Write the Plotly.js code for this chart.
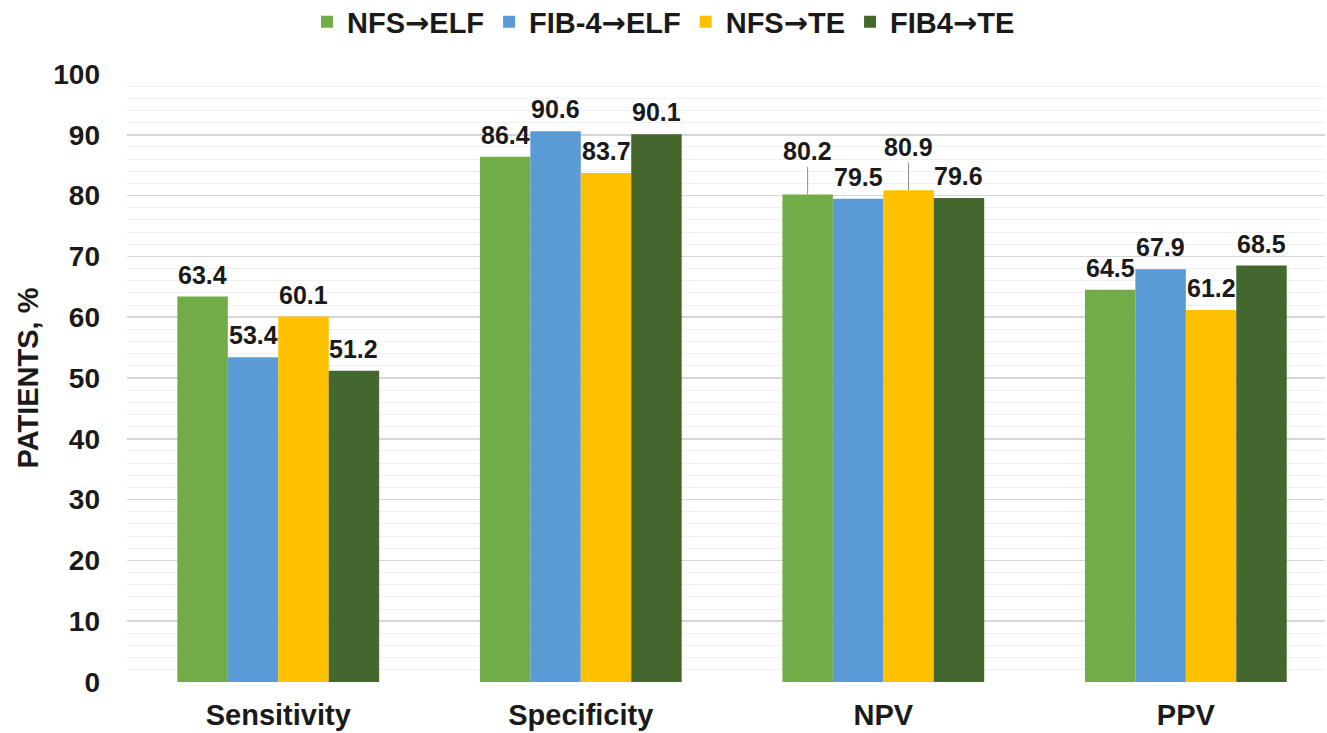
<!DOCTYPE html>
<html>
<head>
<meta charset="utf-8">
<script src="https://cdn.plot.ly/plotly-3.0.1.min.js"></script>
<style>html,body{margin:0;padding:0;background:#fff;}#chart{width:1327px;height:733px;}</style>
</head>
<body>
<div id="chart"></div>
<script>
// ---- data ----
const categories = ["Sensitivity", "Specificity", "NPV", "PPV"];
const seriesNames = ["NFS\u2192ELF", "FIB-4\u2192ELF", "NFS\u2192TE", "FIB4\u2192TE"];
const nfsElf  = [63.4, 86.4, 80.2, 64.5];
const fib4Elf = [53.4, 90.6, 79.5, 67.9];
const nfsTe   = [60.1, 83.7, 80.9, 61.2];
const fib4Te  = [51.2, 90.1, 79.6, 68.5];
const yTicks  = [0, 10, 20, 30, 40, 50, 60, 70, 80, 90, 100];

// ---- style ----
const seriesValues = [nfsElf, fib4Elf, nfsTe, fib4Te];
const colors = ["#70AD47", "#5B9BD5", "#FFC000", "#43672C"];
const FONT = "Liberation Sans, Arial, sans-serif";
const TXT = "#1a1a1a";
const bargap = 0.333;
const nS = seriesValues.length;
const barW = (1 - bargap) / nS;
// labels lifted with a leader line (category index, series index)
const lifted = [[2, 0], [2, 2]];
// render the arrow glyph with a font whose arrow is long, like the reference
const styledName = n => n.replace("\u2192", '<span style="font-family:DejaVu Sans">\u2192</span>');

const traces = seriesValues.map((vals, s) => ({
  type: "bar",
  name: styledName(seriesNames[s]),
  x: categories.map((c, i) => i),
  y: vals,
  marker: {color: colors[s], line: {width: 0}},
  hoverinfo: "y+name"
}));

const annotations = [];
seriesValues.forEach((vals, s) => {
  vals.forEach((v, i) => {
    const xPos = i + (-(1 - bargap) / 2 + barW * (s + 0.5));
    const isLifted = lifted.some(p => p[0] === i && p[1] === s);
    const a = {
      x: xPos, y: v, xref: "x", yref: "y",
      text: v.toFixed(1),
      font: {family: FONT, size: 25, color: TXT, weight: "bold"}
    };
    if (isLifted) {
      Object.assign(a, {showarrow: true, arrowhead: 0, arrowwidth: 1, arrowcolor: "#8c8c8c",
        ax: 0, ay: -43, startstandoff: 0});
    } else {
      Object.assign(a, {showarrow: false, yanchor: "bottom", yshift: 6});
    }
    annotations.push(a);
  });
});

const layout = {
  width: 1327, height: 733,
  margin: {l: 127, r: 2, t: 74, b: 51},
  paper_bgcolor: "#ffffff", plot_bgcolor: "#ffffff",
  font: {family: FONT, color: TXT},
  barmode: "group",
  bargap: bargap, bargroupgap: 0,
  showlegend: true,
  legend: {
    orientation: "h", xref: "container", yref: "container",
    x: 0.5, xanchor: "center", y: 0.97, yanchor: "middle",
    font: {family: FONT, size: 29, color: TXT, weight: "bold"},
    itemwidth: 30, tracegroupgap: 0, traceorder: "normal"
  },
  xaxis: {
    range: [-0.5, 3.46],
    tickmode: "array",
    tickvals: categories.map((c, i) => i),
    ticktext: categories,
    showgrid: false, zeroline: false, showline: false, ticks: "",
    tickfont: {family: FONT, size: 29, color: TXT, weight: "bold"},
    ticklabelstandoff: 13
  },
  yaxis: {
    range: [0, 100],
    tickmode: "array", tickvals: yTicks, ticktext: yTicks.map(String),
    showgrid: true, gridcolor: "#d6d6d6", gridwidth: 1.5,
    zeroline: false, showline: false, ticks: "",
    minor: {dtick: 2, showgrid: true, gridcolor: "#f0f0f0", gridwidth: 1},
    tickfont: {family: FONT, size: 28, color: TXT, weight: "bold"},
    ticklabelstandoff: 26,
    title: {text: "PATIENTS, %", font: {family: FONT, size: 29, color: TXT, weight: "bold"}, standoff: 6}
  },
  annotations: annotations
};

Plotly.newPlot("chart", traces, layout, {displayModeBar: false, staticPlot: true});
</script>
</body>
</html>
